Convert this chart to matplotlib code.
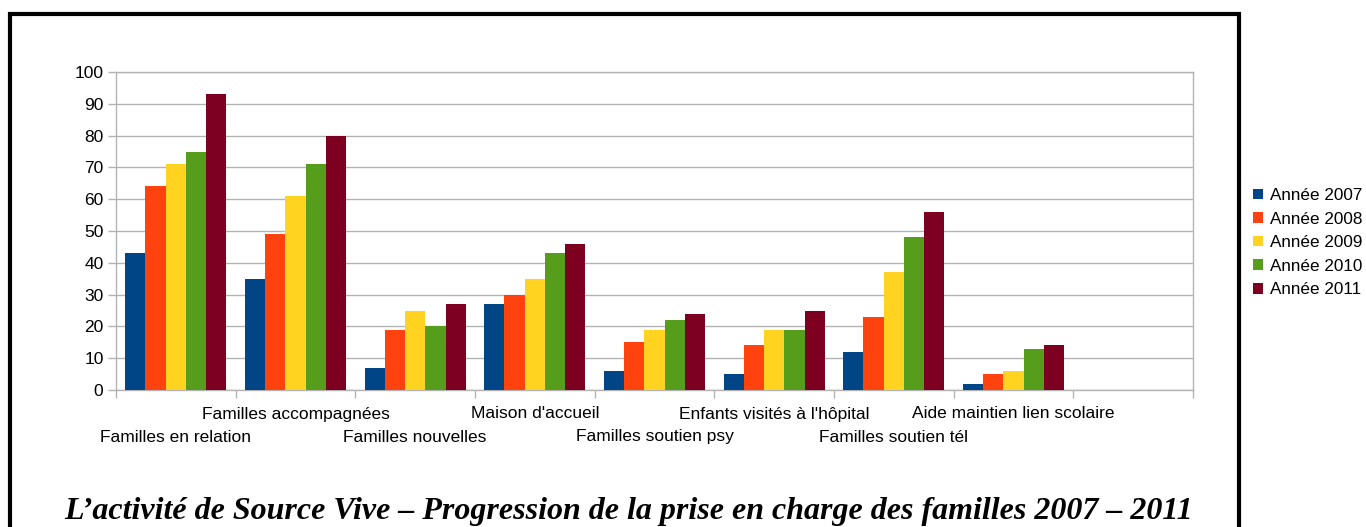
import matplotlib
matplotlib.use("Agg")
import matplotlib.pyplot as plt
import numpy as np
from matplotlib.patches import Rectangle

categories = ["Familles en relation", "Familles accompagnées", "Familles nouvelles",
              "Maison d'accueil", "Familles soutien psy", "Enfants visités à l'hôpital",
              "Familles soutien tél", "Aide maintien lien scolaire", ""]
series_names = ["Année 2007", "Année 2008", "Année 2009", "Année 2010", "Année 2011"]
v2007 = [43, 35, 7, 27, 6, 5, 12, 2, 0]
v2008 = [64, 49, 19, 30, 15, 14, 23, 5, 0]
v2009 = [71, 61, 25, 35, 19, 19, 37, 6, 0]
v2010 = [75, 71, 20, 43, 22, 19, 48, 13, 0]
v2011 = [93, 80, 27, 46, 24, 25, 56, 14, 0]
series = [v2007, v2008, v2009, v2010, v2011]
colors = ["#004586", "#ff420e", "#ffd320", "#579d1c", "#7e0021"]
title = "L\u2019activité de Source Vive \u2013 Progression de la prise en charge des familles 2007 \u2013 2011"

W, H = 1366, 527
fig = plt.figure(figsize=(W/100, H/100), dpi=100)
plt.rcParams['font.family'] = ['Liberation Sans', 'DejaVu Sans']

# outer border
fig.patches.append(Rectangle((10/W, -0.1), (1239-10)/W, 1.1 - 14/H, transform=fig.transFigure,
                             fill=False, edgecolor='black', linewidth=3))

ax = fig.add_axes([116/W, (H-390)/H, (1193-116)/W, (390-72)/H])
n = len(categories)
x = np.arange(n) + 0.5
bw = 0.169
handles = []
for j, (vals, c, name) in enumerate(zip(series, colors, series_names)):
    b = ax.bar(x + (j-2)*bw, vals, width=bw, color=c, label=name, zorder=3, linewidth=0)
    handles.append(b)

ax.set_xlim(0, n)
ax.set_ylim(0, 100)
ax.set_yticks(range(0, 101, 10))
ax.yaxis.grid(True, color='#b3b3b3', linewidth=1, zorder=0)
ax.set_axisbelow(True)
for s in ax.spines.values():
    s.set_color('#b3b3b3')
    s.set_linewidth(1)
ax.set_xticks(range(n+1))
ax.set_xticklabels([])
ax.tick_params(axis='x', length=6, color='#b3b3b3', width=1)
ax.tick_params(axis='y', length=6, color='#b3b3b3', width=1, labelsize=12.5, pad=3)

for i, cat in enumerate(categories):
    if not cat:
        continue
    ypix = 414 if i % 2 == 1 else 437
    ax.text(x[i], 1 - (ypix - 72)/(390-72), cat, transform=ax.get_xaxis_transform(),
            ha='center', va='center', fontsize=12.5)

fig.legend(handles=handles, labels=series_names, loc='upper left',
           bbox_to_anchor=(1253/W, 1 - 188/H), frameon=False, fontsize=12.3,
           handlelength=0.6, handleheight=0.6, handletextpad=0.4, labelspacing=0.5,
           borderaxespad=0, borderpad=0)

fig.text(629/W, 1 - 511/H, title, ha='center', va='center', fontsize=23,
         family=['Liberation Serif', 'DejaVu Serif'], weight='bold', style='italic')

fig.savefig("out.png", dpi=100)
